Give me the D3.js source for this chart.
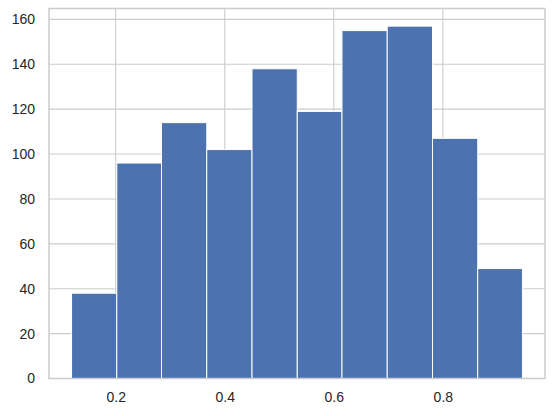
<!DOCTYPE html>
<html>
<head>
<meta charset="utf-8">
<script src="https://cdn.jsdelivr.net/npm/d3@7"></script>
<style>
  body { margin: 0; background: #fff; }
  .tick text { font-family: "Liberation Sans", Arial, sans-serif; font-size: 14px; fill: #262626; }
</style>
</head>
<body>
<div id="chart"></div>
<script>
// histogram bins (edges) and counts
var binEdges = [0.119, 0.202, 0.284, 0.367, 0.450, 0.533, 0.615, 0.698, 0.781, 0.864, 0.946];
var counts = [38, 96, 114, 102, 138, 119, 155, 157, 107, 49];
var xTicks = [0.2, 0.4, 0.6, 0.8];
var yTicks = [0, 20, 40, 60, 80, 100, 120, 140, 160];

var width = 554, height = 416;
var plot = {left: 49, right: 545, top: 8.5, bottom: 378.5};

var bins = counts.map(function(c, i) {
    return {x0: binEdges[i], x1: binEdges[i + 1], count: c};
});

var svg = d3.select("#chart").append("svg")
    .attr("width", width)
    .attr("height", height);

var xPad = (binEdges[binEdges.length - 1] - binEdges[0]) * 0.05;
var x = d3.scaleLinear()
    .domain([binEdges[0] - xPad, binEdges[binEdges.length - 1] + xPad])
    .range([plot.left, plot.right]);
var y = d3.scaleLinear()
    .domain([0, d3.max(counts) * 1.05])
    .range([plot.bottom, plot.top]);

// grid
svg.append("g").selectAll("line")
    .data(xTicks).enter()
    .append("line")
    .attr("x1", function(d) { return x(d); })
    .attr("x2", function(d) { return x(d); })
    .attr("y1", plot.top).attr("y2", plot.bottom)
    .attr("stroke", "#cccccc").attr("stroke-width", 1.1);
svg.append("g").selectAll("line")
    .data(yTicks).enter()
    .append("line")
    .attr("y1", function(d) { return y(d); })
    .attr("y2", function(d) { return y(d); })
    .attr("x1", plot.left).attr("x2", plot.right)
    .attr("stroke", "#cccccc").attr("stroke-width", 1.1);

// bars
svg.append("g").selectAll("rect")
    .data(bins).enter()
    .append("rect")
    .attr("x", function(d) { return x(d.x0); })
    .attr("width", function(d) { return x(d.x1) - x(d.x0); })
    .attr("y", function(d) { return y(d.count); })
    .attr("height", function(d) { return y(0) - y(d.count); })
    .attr("fill", "#4c72b0")
    .attr("stroke", "#ffffff")
    .attr("stroke-width", 1);

// axes (tick labels only, no tick marks)
var xAxis = d3.axisBottom(x).tickValues(xTicks).tickSize(0).tickPadding(14)
    .tickFormat(d3.format(".1f"));
var yAxis = d3.axisLeft(y).tickValues(yTicks).tickSize(0).tickPadding(14)
    .tickFormat(d3.format("d"));

svg.append("g")
    .attr("transform", "translate(0," + plot.bottom + ")")
    .call(xAxis);
svg.append("g")
    .attr("transform", "translate(" + plot.left + ",0)")
    .call(yAxis);
svg.selectAll(".domain").remove();

// frame
svg.append("rect")
    .attr("x", plot.left).attr("y", plot.top)
    .attr("width", plot.right - plot.left).attr("height", plot.bottom - plot.top)
    .attr("fill", "none")
    .attr("stroke", "#cccccc")
    .attr("stroke-width", 1.5);
</script>
</body>
</html>
